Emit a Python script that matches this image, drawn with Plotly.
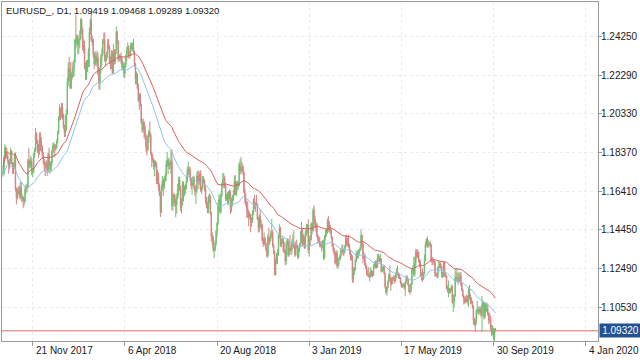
import pandas as pd
import plotly.graph_objects as go

TITLE_TEXT = "EURUSD_, D1, 1.09419 1.09468 1.09289 1.09320"
START_DATE = "2017-10-09"
END_DATE = "2019-10-02"
HOLIDAYS = ["2017-12-25", "2018-01-01", "2018-12-25", "2019-01-01"]

OPEN = [
    1.1731, 1.1736, 1.1808, 1.1860, 1.1823, 1.1822, 1.1796, 1.1765, 1.1788, 1.1845, 1.1785, 1.1759, 1.1762, 1.1814, 1.1652, 1.1608, 1.1648,
    1.1645, 1.1620, 1.1658, 1.1608, 1.1610, 1.1595, 1.1591, 1.1651, 1.1664, 1.1663, 1.1795, 1.1794, 1.1771, 1.1792, 1.1734, 1.1737, 1.1825, 1.1850, 1.1932, 1.1896, 1.1844, 1.1844,
    1.1905, 1.1894, 1.1865, 1.1822, 1.1795, 1.1771, 1.1767, 1.1784, 1.1744, 1.1828, 1.1778, 1.1750, 1.1784, 1.1842, 1.1873, 1.1870, 1.1860, 1.1863, 1.1892, 1.1941,
    1.2005, 1.2058, 1.2017, 1.2068, 1.2030, 1.1968, 1.1937, 1.1949, 1.2035, 1.2197, 1.2263, 1.2262, 1.2164, 1.2236, 1.2222, 1.2262, 1.2299, 1.2408, 1.2396, 1.2426, 1.2383, 1.2404,
    1.2414, 1.2510, 1.2460, 1.2369, 1.2376, 1.2267, 1.2250, 1.2251, 1.2290, 1.2350, 1.2450, 1.2505, 1.2408, 1.2404, 1.2337, 1.2286, 1.2328, 1.2294, 1.2317, 1.2234,
    1.2192, 1.2268, 1.2319, 1.2337, 1.2404, 1.2410, 1.2311, 1.2307, 1.2336, 1.2389, 1.2369, 1.2301, 1.2288, 1.2336, 1.2240, 1.2341, 1.2300, 1.2353, 1.2448, 1.2398, 1.2310, 1.2322,
    1.2324, 1.2302, 1.2269, 1.2278, 1.2238, 1.2282, 1.2320, 1.2356, 1.2370, 1.2326, 1.2330, 1.2381, 1.2370, 1.2372, 1.2346, 1.2288, 1.2211, 1.2234, 1.2165, 1.2103, 1.2130,
    1.2078, 1.1990, 1.1950, 1.1988, 1.1960, 1.1922, 1.1866, 1.1851, 1.1917, 1.1941, 1.1925, 1.1834, 1.1810, 1.1796, 1.1767, 1.1792, 1.1779, 1.1694, 1.1721, 1.1654, 1.1623, 1.1536, 1.1664,
    1.1693, 1.1659, 1.1696, 1.1720, 1.1776, 1.1798, 1.1767, 1.1782, 1.1774, 1.1793, 1.1567, 1.1610, 1.1623, 1.1587, 1.1570, 1.1604, 1.1655, 1.1700, 1.1655, 1.1555, 1.1570,
    1.1684, 1.1633, 1.1658, 1.1655, 1.1691, 1.1747, 1.1748, 1.1742, 1.1706, 1.1668, 1.1685, 1.1710, 1.1660, 1.1640, 1.1643, 1.1719, 1.1693, 1.1684, 1.1728, 1.1643, 1.1657, 1.1703,
    1.1691, 1.1658, 1.1599, 1.1566, 1.1551, 1.1610, 1.1610, 1.1527, 1.1410, 1.1405, 1.1343, 1.1346, 1.1377, 1.1437, 1.1479, 1.1571, 1.1597, 1.1537, 1.1623, 1.1677, 1.1700, 1.1706, 1.1670,
    1.1601, 1.1620, 1.1583, 1.1627, 1.1625, 1.1551, 1.1595, 1.1601, 1.1626, 1.1690, 1.1624, 1.1683, 1.1664, 1.1672, 1.1776, 1.1744, 1.1748, 1.1765, 1.1739, 1.1642,
    1.1604, 1.1577, 1.1547, 1.1532, 1.1511, 1.1524, 1.1491, 1.1491, 1.1527, 1.1594, 1.1559, 1.1578, 1.1576, 1.1500, 1.1453, 1.1512, 1.1462, 1.1468, 1.1391, 1.1375, 1.1400, 1.1372, 1.1346,
    1.1313, 1.1407, 1.1385, 1.1406, 1.1426, 1.1432, 1.1364, 1.1334, 1.1216, 1.1290, 1.1312, 1.1329, 1.1417, 1.1456, 1.1368, 1.1385, 1.1390, 1.1337, 1.1336, 1.1287, 1.1369, 1.1393,
    1.1317, 1.1352, 1.1342, 1.1342, 1.1376, 1.1379, 1.1355, 1.1317, 1.1370, 1.1360, 1.1306, 1.1346, 1.1362, 1.1380, 1.1441, 1.1370, 1.1403, 1.1354, 1.1430, 1.1440,
    1.1468, 1.1343, 1.1395, 1.1394, 1.1474, 1.1440, 1.1543, 1.1500, 1.1467, 1.1472, 1.1413, 1.1394, 1.1389, 1.1366, 1.1364, 1.1363, 1.1385, 1.1303, 1.1408, 1.1428, 1.1433, 1.1484,
    1.1448, 1.1456, 1.1437, 1.1406, 1.1362, 1.1341, 1.1325, 1.1277, 1.1326, 1.1261, 1.1294, 1.1295, 1.1311, 1.1340, 1.1342, 1.1338, 1.1332, 1.1357, 1.1399, 1.1371,
    1.1370, 1.1365, 1.1338, 1.1307, 1.1306, 1.1194, 1.1234, 1.1247, 1.1287, 1.1326, 1.1306, 1.1326, 1.1341, 1.1352, 1.1417, 1.1373, 1.1300, 1.1312, 1.1265, 1.1250, 1.1221,
    1.1218, 1.1213, 1.1205, 1.1235, 1.1221, 1.1215, 1.1262, 1.1264, 1.1276, 1.1254, 1.1299, 1.1305, 1.1284, 1.1297, 1.1234, 1.1245, 1.1258, 1.1224, 1.1155, 1.1130, 1.1150, 1.1183,
    1.1216, 1.1195, 1.1171, 1.1199, 1.1198, 1.1190, 1.1190, 1.1216, 1.1234, 1.1224, 1.1205, 1.1203, 1.1174, 1.1157, 1.1165, 1.1161, 1.1151, 1.1181, 1.1205, 1.1192, 1.1165, 1.1131, 1.1131,
    1.1170, 1.1240, 1.1250, 1.1220, 1.1275, 1.1332, 1.1310, 1.1327, 1.1287, 1.1275, 1.1210, 1.1218, 1.1195, 1.1222, 1.1292, 1.1370, 1.1398, 1.1366, 1.1369, 1.1372,
    1.1368, 1.1287, 1.1285, 1.1284, 1.1283, 1.1224, 1.1214, 1.1208, 1.1252, 1.1257, 1.1271, 1.1259, 1.1209, 1.1223, 1.1277, 1.1220, 1.1211, 1.1151, 1.1140, 1.1145, 1.1126, 1.1136, 1.1154,
    1.1077, 1.1081, 1.1108, 1.1204, 1.1199, 1.1200, 1.1181, 1.1198, 1.1213, 1.1171, 1.1139, 1.1108, 1.1090, 1.1077, 1.1097, 1.1080, 1.1082, 1.1143, 1.1100, 1.1089, 1.1078, 1.1056,
    1.0986, 1.0968, 1.0973, 1.1033, 1.1036, 1.1026, 1.1043, 1.1043, 1.1011, 1.1064, 1.1074, 1.1002, 1.1071, 1.1032, 1.1044, 1.1017, 1.0989, 1.0990, 1.0942, 1.0921, 1.0940,
    1.0899, 1.09419,
]

HIGH = [
    1.1764, 1.1818, 1.1880, 1.1870, 1.1860, 1.1835, 1.1800, 1.1806, 1.1861, 1.1850, 1.1790, 1.1785, 1.1834, 1.1837, 1.1660, 1.1656, 1.1665,
    1.1669, 1.1687, 1.1688, 1.1626, 1.1616, 1.1608, 1.1660, 1.1679, 1.1672, 1.1805, 1.1861, 1.1807, 1.1822, 1.1810, 1.1760, 1.1834, 1.1861, 1.1962, 1.1940, 1.1902, 1.1880, 1.1939,
    1.1940, 1.1916, 1.1872, 1.1840, 1.1805, 1.1789, 1.1799, 1.1795, 1.1838, 1.1862, 1.1790, 1.1795, 1.1851, 1.1886, 1.1889, 1.1880, 1.1880, 1.1904, 1.1947, 1.2022,
    1.2081, 1.2065, 1.2089, 1.2088, 1.2035, 1.1979, 1.2029, 1.2059, 1.2218, 1.2296, 1.2323, 1.2297, 1.2245, 1.2296, 1.2280, 1.2308, 1.2415, 1.2537, 1.2438, 1.2435, 1.2413, 1.2457,
    1.2519, 1.2518, 1.2471, 1.2415, 1.2404, 1.2294, 1.2306, 1.2307, 1.2366, 1.2472, 1.2518, 1.2555, 1.2430, 1.2415, 1.2346, 1.2352, 1.2343, 1.2355, 1.2345, 1.2244,
    1.2273, 1.2336, 1.2365, 1.2415, 1.2445, 1.2447, 1.2333, 1.2349, 1.2413, 1.2413, 1.2379, 1.2324, 1.2356, 1.2354, 1.2389, 1.2362, 1.2359, 1.2476, 1.2455, 1.2407, 1.2337, 1.2337,
    1.2345, 1.2326, 1.2300, 1.2292, 1.2295, 1.2338, 1.2376, 1.2396, 1.2380, 1.2353, 1.2394, 1.2396, 1.2395, 1.2414, 1.2354, 1.2292, 1.2249, 1.2239, 1.2187, 1.2138, 1.2140,
    1.2085, 1.2010, 1.2009, 1.1998, 1.1975, 1.1930, 1.1878, 1.1930, 1.1954, 1.1996, 1.1936, 1.1840, 1.1830, 1.1808, 1.1800, 1.1796, 1.1787, 1.1750, 1.1736, 1.1680, 1.1640, 1.1675, 1.1718,
    1.1707, 1.1717, 1.1730, 1.1796, 1.1840, 1.1808, 1.1811, 1.1797, 1.1850, 1.1852, 1.1626, 1.1633, 1.1624, 1.1604, 1.1629, 1.1676, 1.1715, 1.1714, 1.1667, 1.1605, 1.1693,
    1.1690, 1.1670, 1.1676, 1.1720, 1.1764, 1.1791, 1.1768, 1.1762, 1.1710, 1.1689, 1.1720, 1.1717, 1.1670, 1.1674, 1.1738, 1.1746, 1.1745, 1.1740, 1.1748, 1.1666, 1.1718, 1.1717,
    1.1701, 1.1670, 1.1612, 1.1584, 1.1620, 1.1631, 1.1622, 1.1537, 1.1431, 1.1416, 1.1358, 1.1391, 1.1444, 1.1484, 1.1581, 1.1623, 1.1623, 1.1632, 1.1686, 1.1733, 1.1733, 1.1719, 1.1683,
    1.1627, 1.1637, 1.1641, 1.1648, 1.1644, 1.1609, 1.1620, 1.1649, 1.1720, 1.1722, 1.1692, 1.1695, 1.1690, 1.1788, 1.1803, 1.1815, 1.1790, 1.1776, 1.1740, 1.1655,
    1.1625, 1.1588, 1.1590, 1.1545, 1.1535, 1.1497, 1.1507, 1.1545, 1.1604, 1.1621, 1.1585, 1.1622, 1.1579, 1.1510, 1.1523, 1.1549, 1.1496, 1.1476, 1.1408, 1.1432, 1.1410, 1.1382, 1.1364,
    1.1424, 1.1456, 1.1412, 1.1442, 1.1500, 1.1443, 1.1374, 1.1340, 1.1301, 1.1328, 1.1346, 1.1424, 1.1472, 1.1461, 1.1401, 1.1413, 1.1403, 1.1383, 1.1345, 1.1386, 1.1402, 1.1400,
    1.1380, 1.1419, 1.1367, 1.1398, 1.1424, 1.1442, 1.1373, 1.1386, 1.1395, 1.1367, 1.1354, 1.1378, 1.1439, 1.1486, 1.1448, 1.1421, 1.1412, 1.1446, 1.1475, 1.1475,
    1.1497, 1.1411, 1.1419, 1.1484, 1.1483, 1.1555, 1.1570, 1.1516, 1.1488, 1.1480, 1.1420, 1.1408, 1.1410, 1.1384, 1.1386, 1.1394, 1.1395, 1.1417, 1.1446, 1.1451, 1.1502, 1.1514,
    1.1488, 1.1470, 1.1449, 1.1411, 1.1373, 1.1354, 1.1336, 1.1341, 1.1340, 1.1305, 1.1302, 1.1320, 1.1351, 1.1372, 1.1368, 1.1349, 1.1369, 1.1420, 1.1419, 1.1406,
    1.1419, 1.1375, 1.1345, 1.1323, 1.1315, 1.1256, 1.1255, 1.1297, 1.1339, 1.1338, 1.1345, 1.1347, 1.1362, 1.1448, 1.1420, 1.1380, 1.1325, 1.1326, 1.1278, 1.1263, 1.1239,
    1.1255, 1.1227, 1.1254, 1.1241, 1.1236, 1.1270, 1.1285, 1.1288, 1.1288, 1.1323, 1.1323, 1.1314, 1.1324, 1.1301, 1.1260, 1.1262, 1.1262, 1.1229, 1.1160, 1.1155, 1.1188, 1.1225,
    1.1265, 1.1201, 1.1205, 1.1206, 1.1214, 1.1212, 1.1227, 1.1251, 1.1264, 1.1227, 1.1223, 1.1206, 1.1182, 1.1171, 1.1175, 1.1173, 1.1186, 1.1215, 1.1213, 1.1199, 1.1170, 1.1139, 1.1176,
    1.1253, 1.1265, 1.1307, 1.1309, 1.1348, 1.1347, 1.1345, 1.1336, 1.1297, 1.1290, 1.1229, 1.1248, 1.1230, 1.1319, 1.1386, 1.1400, 1.1412, 1.1394, 1.1384, 1.1389,
    1.1375, 1.1307, 1.1305, 1.1293, 1.1287, 1.1229, 1.1223, 1.1260, 1.1286, 1.1285, 1.1280, 1.1263, 1.1230, 1.1282, 1.1285, 1.1231, 1.1215, 1.1161, 1.1187, 1.1150, 1.1150, 1.1167, 1.1163,
    1.1117, 1.1117, 1.1250, 1.1232, 1.1250, 1.1225, 1.1229, 1.1230, 1.1229, 1.1179, 1.1145, 1.1115, 1.1105, 1.1109, 1.1115, 1.1111, 1.1153, 1.1164, 1.1116, 1.1102, 1.1084, 1.1062,
    1.0999, 1.0994, 1.1042, 1.1085, 1.1050, 1.1057, 1.1055, 1.1055, 1.1109, 1.1087, 1.1075, 1.1075, 1.1075, 1.1075, 1.1070, 1.1025, 1.1025, 1.1010, 1.0962, 1.0960, 1.0945,
    1.0944, 1.09468,
]

LOW = [
    1.1716, 1.1725, 1.1793, 1.1806, 1.1805, 1.1780, 1.1731, 1.1752, 1.1778, 1.1777, 1.1729, 1.1728, 1.1755, 1.1641, 1.1574, 1.1600, 1.1628,
    1.1605, 1.1601, 1.1589, 1.1585, 1.1554, 1.1567, 1.1580, 1.1627, 1.1635, 1.1655, 1.1761, 1.1757, 1.1757, 1.1721, 1.1713, 1.1735, 1.1812, 1.1840, 1.1880, 1.1835, 1.1810, 1.1826,
    1.1845, 1.1839, 1.1808, 1.1777, 1.1744, 1.1717, 1.1755, 1.1718, 1.1732, 1.1767, 1.1729, 1.1743, 1.1769, 1.1816, 1.1836, 1.1811, 1.1846, 1.1855, 1.1882, 1.1929,
    1.1997, 1.2002, 1.2013, 1.2005, 1.1958, 1.1916, 1.1916, 1.1957, 1.2028, 1.2175, 1.2201, 1.2160, 1.2160, 1.2207, 1.2218, 1.2224, 1.2291, 1.2367, 1.2379, 1.2335, 1.2337, 1.2366,
    1.2410, 1.2437, 1.2355, 1.2342, 1.2261, 1.2206, 1.2206, 1.2246, 1.2271, 1.2271, 1.2435, 1.2398, 1.2381, 1.2319, 1.2260, 1.2277, 1.2275, 1.2277, 1.2229, 1.2155,
    1.2155, 1.2236, 1.2282, 1.2328, 1.2390, 1.2297, 1.2273, 1.2301, 1.2318, 1.2361, 1.2287, 1.2259, 1.2260, 1.2238, 1.2236, 1.2283, 1.2288, 1.2337, 1.2388, 1.2298, 1.2297, 1.2307,
    1.2287, 1.2255, 1.2255, 1.2215, 1.2215, 1.2268, 1.2301, 1.2336, 1.2314, 1.2313, 1.2325, 1.2356, 1.2352, 1.2342, 1.2272, 1.2183, 1.2183, 1.2157, 1.2094, 1.2054, 1.2071,
    1.1983, 1.1938, 1.1938, 1.1911, 1.1901, 1.1838, 1.1821, 1.1845, 1.1885, 1.1917, 1.1822, 1.1763, 1.1785, 1.1750, 1.1717, 1.1762, 1.1677, 1.1677, 1.1644, 1.1616, 1.1510, 1.1529, 1.1641,
    1.1617, 1.1650, 1.1687, 1.1693, 1.1765, 1.1728, 1.1753, 1.1751, 1.1727, 1.1544, 1.1542, 1.1578, 1.1561, 1.1508, 1.1527, 1.1603, 1.1619, 1.1642, 1.1540, 1.1527, 1.1569,
    1.1590, 1.1615, 1.1626, 1.1649, 1.1684, 1.1724, 1.1710, 1.1690, 1.1650, 1.1623, 1.1672, 1.1650, 1.1617, 1.1575, 1.1630, 1.1684, 1.1653, 1.1672, 1.1638, 1.1626, 1.1648, 1.1675,
    1.1640, 1.1578, 1.1554, 1.1529, 1.1529, 1.1580, 1.1521, 1.1387, 1.1365, 1.1332, 1.1301, 1.1336, 1.1363, 1.1411, 1.1468, 1.1552, 1.1528, 1.1525, 1.1610, 1.1668, 1.1655, 1.1655, 1.1590,
    1.1592, 1.1572, 1.1572, 1.1600, 1.1525, 1.1535, 1.1564, 1.1590, 1.1620, 1.1620, 1.1614, 1.1642, 1.1648, 1.1664, 1.1726, 1.1728, 1.1736, 1.1723, 1.1630, 1.1577,
    1.1563, 1.1506, 1.1504, 1.1463, 1.1498, 1.1432, 1.1460, 1.1479, 1.1520, 1.1550, 1.1537, 1.1570, 1.1495, 1.1432, 1.1432, 1.1452, 1.1444, 1.1386, 1.1358, 1.1368, 1.1362, 1.1336, 1.1302,
    1.1306, 1.1370, 1.1365, 1.1386, 1.1400, 1.1355, 1.1320, 1.1216, 1.1212, 1.1272, 1.1271, 1.1313, 1.1402, 1.1359, 1.1356, 1.1375, 1.1330, 1.1326, 1.1267, 1.1267, 1.1368, 1.1306,
    1.1310, 1.1335, 1.1318, 1.1320, 1.1367, 1.1350, 1.1307, 1.1314, 1.1351, 1.1295, 1.1300, 1.1335, 1.1358, 1.1380, 1.1360, 1.1366, 1.1348, 1.1349, 1.1411, 1.1425,
    1.1325, 1.1309, 1.1362, 1.1390, 1.1422, 1.1438, 1.1488, 1.1452, 1.1436, 1.1406, 1.1375, 1.1374, 1.1356, 1.1355, 1.1335, 1.1350, 1.1290, 1.1297, 1.1396, 1.1412, 1.1425, 1.1437,
    1.1431, 1.1424, 1.1396, 1.1357, 1.1330, 1.1314, 1.1268, 1.1274, 1.1249, 1.1249, 1.1262, 1.1289, 1.1299, 1.1327, 1.1317, 1.1312, 1.1324, 1.1351, 1.1365, 1.1358,
    1.1354, 1.1320, 1.1291, 1.1288, 1.1176, 1.1177, 1.1215, 1.1236, 1.1279, 1.1296, 1.1298, 1.1318, 1.1335, 1.1341, 1.1362, 1.1275, 1.1292, 1.1262, 1.1244, 1.1212, 1.1207,
    1.1203, 1.1184, 1.1201, 1.1210, 1.1205, 1.1210, 1.1253, 1.1248, 1.1248, 1.1252, 1.1284, 1.1279, 1.1281, 1.1227, 1.1232, 1.1236, 1.1217, 1.1147, 1.1118, 1.1111, 1.1148, 1.1174,
    1.1185, 1.1135, 1.1161, 1.1170, 1.1186, 1.1172, 1.1180, 1.1201, 1.1214, 1.1196, 1.1195, 1.1169, 1.1151, 1.1150, 1.1153, 1.1140, 1.1107, 1.1170, 1.1185, 1.1160, 1.1125, 1.1115, 1.1128,
    1.1165, 1.1228, 1.1209, 1.1207, 1.1252, 1.1300, 1.1301, 1.1278, 1.1254, 1.1206, 1.1188, 1.1181, 1.1191, 1.1216, 1.1284, 1.1359, 1.1352, 1.1355, 1.1360, 1.1356,
    1.1278, 1.1265, 1.1266, 1.1273, 1.1206, 1.1208, 1.1201, 1.1197, 1.1234, 1.1250, 1.1245, 1.1202, 1.1201, 1.1203, 1.1207, 1.1203, 1.1145, 1.1127, 1.1102, 1.1120, 1.1125, 1.1134, 1.1069,
    1.1027, 1.1050, 1.1104, 1.1179, 1.1185, 1.1166, 1.1176, 1.1186, 1.1160, 1.1133, 1.1103, 1.1066, 1.1070, 1.1072, 1.1077, 1.1065, 1.1052, 1.1092, 1.1066, 1.1070, 1.1045, 1.0964,
    1.0957, 1.0926, 1.0962, 1.1018, 1.1016, 1.1013, 1.1025, 1.1000, 1.0927, 1.1051, 1.0990, 1.0994, 1.1025, 1.1031, 1.1008, 1.0966, 1.0973, 1.0933, 1.0905, 1.0911, 1.0885,
    1.0879, 1.09289,
]

CLOSE = [
    1.1736, 1.1808, 1.1860, 1.1823, 1.1822, 1.1796, 1.1765, 1.1788, 1.1845, 1.1785, 1.1759, 1.1762, 1.1814, 1.1652, 1.1608, 1.1648, 1.1645,
    1.1620, 1.1658, 1.1608, 1.1610, 1.1595, 1.1591, 1.1651, 1.1664, 1.1663, 1.1795, 1.1794, 1.1771, 1.1792, 1.1734, 1.1737, 1.1825, 1.1850, 1.1932, 1.1896, 1.1844, 1.1844, 1.1905,
    1.1894, 1.1865, 1.1822, 1.1795, 1.1771, 1.1767, 1.1784, 1.1744, 1.1828, 1.1778, 1.1750, 1.1784, 1.1842, 1.1873, 1.1870, 1.1860, 1.1863, 1.1892, 1.1941, 1.2005,
    1.2058, 1.2017, 1.2068, 1.2030, 1.1968, 1.1937, 1.1949, 1.2035, 1.2197, 1.2263, 1.2262, 1.2164, 1.2236, 1.2222, 1.2262, 1.2299, 1.2408, 1.2396, 1.2426, 1.2383, 1.2404, 1.2414,
    1.2510, 1.2460, 1.2369, 1.2376, 1.2267, 1.2250, 1.2251, 1.2290, 1.2350, 1.2450, 1.2505, 1.2408, 1.2404, 1.2337, 1.2286, 1.2328, 1.2294, 1.2317, 1.2234, 1.2192,
    1.2268, 1.2319, 1.2337, 1.2404, 1.2410, 1.2311, 1.2307, 1.2336, 1.2389, 1.2369, 1.2301, 1.2288, 1.2336, 1.2240, 1.2341, 1.2300, 1.2353, 1.2448, 1.2398, 1.2310, 1.2322, 1.2324,
    1.2302, 1.2269, 1.2278, 1.2238, 1.2282, 1.2320, 1.2356, 1.2370, 1.2326, 1.2330, 1.2381, 1.2370, 1.2372, 1.2346, 1.2288, 1.2211, 1.2234, 1.2165, 1.2103, 1.2130, 1.2078,
    1.1990, 1.1950, 1.1988, 1.1960, 1.1922, 1.1866, 1.1851, 1.1917, 1.1941, 1.1925, 1.1834, 1.1810, 1.1796, 1.1767, 1.1792, 1.1779, 1.1694, 1.1721, 1.1654, 1.1623, 1.1536, 1.1664, 1.1693,
    1.1659, 1.1696, 1.1720, 1.1776, 1.1798, 1.1767, 1.1782, 1.1774, 1.1793, 1.1567, 1.1610, 1.1623, 1.1587, 1.1570, 1.1604, 1.1655, 1.1700, 1.1655, 1.1555, 1.1570, 1.1684,
    1.1633, 1.1658, 1.1655, 1.1691, 1.1747, 1.1748, 1.1742, 1.1706, 1.1668, 1.1685, 1.1710, 1.1660, 1.1640, 1.1643, 1.1719, 1.1693, 1.1684, 1.1728, 1.1643, 1.1657, 1.1703, 1.1691,
    1.1658, 1.1599, 1.1566, 1.1551, 1.1610, 1.1610, 1.1527, 1.1410, 1.1405, 1.1343, 1.1346, 1.1377, 1.1437, 1.1479, 1.1571, 1.1597, 1.1537, 1.1623, 1.1677, 1.1700, 1.1706, 1.1670, 1.1601,
    1.1620, 1.1583, 1.1627, 1.1625, 1.1551, 1.1595, 1.1601, 1.1626, 1.1690, 1.1624, 1.1683, 1.1664, 1.1672, 1.1776, 1.1744, 1.1748, 1.1765, 1.1739, 1.1642, 1.1604,
    1.1577, 1.1547, 1.1532, 1.1511, 1.1524, 1.1491, 1.1491, 1.1527, 1.1594, 1.1559, 1.1578, 1.1576, 1.1500, 1.1453, 1.1512, 1.1462, 1.1468, 1.1391, 1.1375, 1.1400, 1.1372, 1.1346, 1.1313,
    1.1407, 1.1385, 1.1406, 1.1426, 1.1432, 1.1364, 1.1334, 1.1216, 1.1290, 1.1312, 1.1329, 1.1417, 1.1456, 1.1368, 1.1385, 1.1390, 1.1337, 1.1336, 1.1287, 1.1369, 1.1393, 1.1317,
    1.1352, 1.1342, 1.1342, 1.1376, 1.1379, 1.1355, 1.1317, 1.1370, 1.1360, 1.1306, 1.1346, 1.1362, 1.1380, 1.1441, 1.1370, 1.1403, 1.1354, 1.1430, 1.1440, 1.1468,
    1.1343, 1.1395, 1.1394, 1.1474, 1.1440, 1.1543, 1.1500, 1.1467, 1.1472, 1.1413, 1.1394, 1.1389, 1.1366, 1.1364, 1.1363, 1.1385, 1.1303, 1.1408, 1.1428, 1.1433, 1.1484, 1.1448,
    1.1456, 1.1437, 1.1406, 1.1362, 1.1341, 1.1325, 1.1277, 1.1326, 1.1261, 1.1294, 1.1295, 1.1311, 1.1340, 1.1342, 1.1338, 1.1332, 1.1357, 1.1399, 1.1371, 1.1370,
    1.1365, 1.1338, 1.1307, 1.1306, 1.1194, 1.1234, 1.1247, 1.1287, 1.1326, 1.1306, 1.1326, 1.1341, 1.1352, 1.1417, 1.1373, 1.1300, 1.1312, 1.1265, 1.1250, 1.1221, 1.1218,
    1.1213, 1.1205, 1.1235, 1.1221, 1.1215, 1.1262, 1.1264, 1.1276, 1.1254, 1.1299, 1.1305, 1.1284, 1.1297, 1.1234, 1.1245, 1.1258, 1.1224, 1.1155, 1.1130, 1.1150, 1.1183, 1.1216,
    1.1195, 1.1171, 1.1199, 1.1198, 1.1190, 1.1190, 1.1216, 1.1234, 1.1224, 1.1205, 1.1203, 1.1174, 1.1157, 1.1165, 1.1161, 1.1151, 1.1181, 1.1205, 1.1192, 1.1165, 1.1131, 1.1131, 1.1170,
    1.1240, 1.1250, 1.1220, 1.1275, 1.1332, 1.1310, 1.1327, 1.1287, 1.1275, 1.1210, 1.1218, 1.1195, 1.1222, 1.1292, 1.1370, 1.1398, 1.1366, 1.1369, 1.1372, 1.1368,
    1.1287, 1.1285, 1.1284, 1.1283, 1.1224, 1.1214, 1.1208, 1.1252, 1.1257, 1.1271, 1.1259, 1.1209, 1.1223, 1.1277, 1.1220, 1.1211, 1.1151, 1.1140, 1.1145, 1.1126, 1.1136, 1.1154, 1.1077,
    1.1081, 1.1108, 1.1204, 1.1199, 1.1200, 1.1181, 1.1198, 1.1213, 1.1171, 1.1139, 1.1108, 1.1090, 1.1077, 1.1097, 1.1080, 1.1082, 1.1143, 1.1100, 1.1089, 1.1078, 1.1056, 1.0986,
    1.0968, 1.0973, 1.1033, 1.1036, 1.1026, 1.1043, 1.1043, 1.1011, 1.1064, 1.1074, 1.1002, 1.1071, 1.1032, 1.1044, 1.1017, 1.0989, 1.0990, 1.0942, 1.0921, 1.0940, 1.0899,
    1.09419, 1.09320,
]

Y_TICKS = [1.2425, 1.2229, 1.2033, 1.1837, 1.1641, 1.1445, 1.1249, 1.1053]
X_TICK_LABELS = ["21 Nov 2017", "6 Apr 2018", "20 Aug 2018", "3 Jan 2019",
                 "17 May 2019", "30 Sep 2019", "4 Jan 2020"]
X_TICK_DATES = ["2017-11-21", "2018-04-06", "2018-08-20", "2019-01-03",
                "2019-05-17", "2019-09-30", None]
LAST_PRICE = 1.09320

MA_SPAN_RED = 55
MA_SPAN_BLUE = 45

# ---------------------------------------------------------------------------
n = min(len(OPEN), len(HIGH), len(LOW), len(CLOSE))
dates = pd.bdate_range(START_DATE, END_DATE, freq="C", holidays=HOLIDAYS)
xs = list(range(n))

tick_idx = []
for d in X_TICK_DATES:
    if d is None:
        step = tick_idx[-1] - tick_idx[-2]
        tick_idx.append(tick_idx[-1] + step)
    else:
        tick_idx.append(int(dates.searchsorted(pd.Timestamp(d))))

ma_red = pd.Series(HIGH[:n]).ewm(span=MA_SPAN_RED).mean()
ma_blue = pd.Series(LOW[:n]).ewm(span=MA_SPAN_BLUE).mean()

UP = "#70c070"
DN = "#d88282"
AXIS = "#9a9a9a"
GRID = "#ebebeb"
TXT = "#1a1a1a"
FONT = "Liberation Sans, Arial, sans-serif"

fig = go.Figure()
fig.add_trace(go.Candlestick(
    x=xs, open=OPEN[:n], high=HIGH[:n], low=LOW[:n], close=CLOSE[:n],
    increasing=dict(line=dict(color=UP, width=1), fillcolor=UP),
    decreasing=dict(line=dict(color=DN, width=1), fillcolor=DN),
    whiskerwidth=0, showlegend=False, hoverinfo="skip",
))
fig.add_trace(go.Scatter(x=xs, y=ma_red, mode="lines",
                         line=dict(color="#d9605c", width=1), showlegend=False, hoverinfo="skip"))
fig.add_trace(go.Scatter(x=xs, y=ma_blue, mode="lines",
                         line=dict(color="#8cc4ea", width=1), showlegend=False, hoverinfo="skip"))

fig.add_shape(type="line", xref="paper", x0=0, x1=1, yref="y", y0=LAST_PRICE, y1=LAST_PRICE,
              line=dict(color="rgba(232,140,140,0.85)", width=1.5), layer="below")

annotations = [
    dict(text=TITLE_TEXT, xref="paper", yref="paper", x=0, y=1, xanchor="left", yanchor="top",
         xshift=2, yshift=-1, showarrow=False, font=dict(family=FONT, size=9.5, color=TXT)),
    dict(text="1.09320", xref="paper", yref="y", x=1, y=LAST_PRICE, xanchor="left", yanchor="middle",
         xshift=1, showarrow=False, bgcolor="#22528f", borderpad=1, width=39,
         font=dict(family=FONT, size=10, color="white")),
]
for v in Y_TICKS:
    annotations.append(dict(text=f"{v:.5f}", xref="paper", yref="y", x=1, y=v, xanchor="left",
                            yanchor="middle", xshift=1, showarrow=False,
                            font=dict(family=FONT, size=10, color=TXT)))
for lab, ti in zip(X_TICK_LABELS, tick_idx):
    annotations.append(dict(text=lab, xref="x", yref="paper", x=ti, y=0, xanchor="left", yanchor="top",
                            xshift=1, yshift=-2, showarrow=False,
                            font=dict(family=FONT, size=10, color=TXT)))

fig.update_layout(
    width=640, height=360,
    margin=dict(l=2, r=42, t=2, b=19),
    paper_bgcolor="white", plot_bgcolor="white",
    font=dict(family=FONT, size=10, color=TXT),
    annotations=annotations,
    xaxis=dict(range=[-1.0, 619.8], rangeslider=dict(visible=False), tickvals=tick_idx,
               showticklabels=False, ticks="outside", ticklen=4, tickcolor=AXIS,
               showgrid=True, gridcolor=GRID, griddash="dot", zeroline=False,
               showline=True, linecolor=AXIS, linewidth=1, mirror=True),
    yaxis=dict(range=[1.08804, 1.26011], side="right", tickvals=Y_TICKS,
               showticklabels=False, ticks="outside", ticklen=3,
               tickcolor=AXIS, showgrid=True, gridcolor=GRID, griddash="dot", zeroline=False,
               showline=True, linecolor=AXIS, linewidth=1, mirror=True),
)

fig.write_html("out.html", config={"displayModeBar": False},
               post_script="document.body.style.margin='0px';")
